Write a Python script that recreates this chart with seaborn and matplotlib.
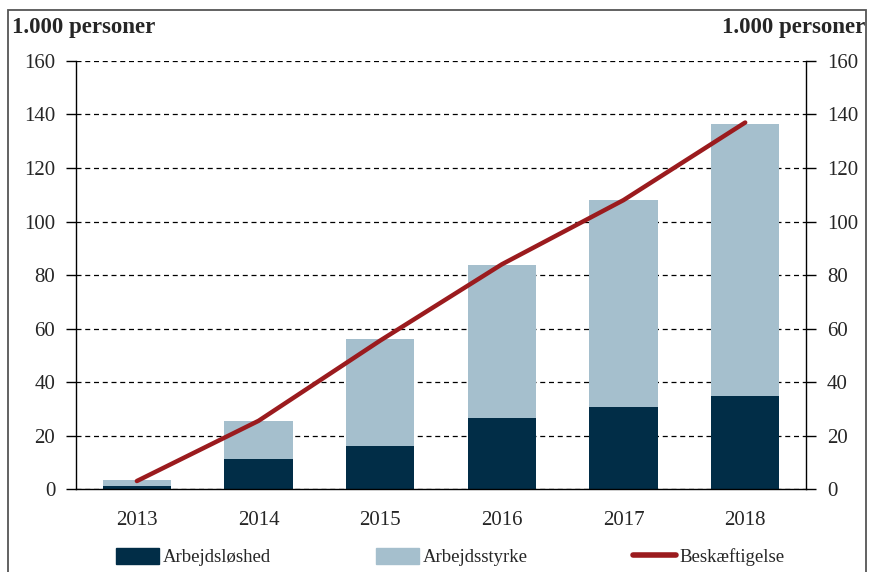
import numpy as np
import pandas as pd
import matplotlib
matplotlib.use("Agg")
import matplotlib.pyplot as plt
import seaborn as sns
from matplotlib.patches import Rectangle
from matplotlib.lines import Line2D
from matplotlib.patches import Patch

sns.set_theme(style="white")
plt.rcParams['font.family'] = ['Liberation Serif', 'DejaVu Serif']

years = ["2013", "2014", "2015", "2016", "2017", "2018"]
arbejdsloshed = [1.0, 11.2, 16.0, 26.5, 30.6, 34.8]
arbejdsstyrke = [3.3, 25.4, 56.2, 83.6, 108.0, 136.6]
beskaeftigelse = [3.0, 25.5, 55.5, 84.0, 108.0, 137.0]

dark = "#012d47"
light = "#a5bfcd"
red = "#9b1b1e"

df = pd.DataFrame({"year": years, "ledige": arbejdsloshed,
                   "styrke": arbejdsstyrke, "besk": beskaeftigelse})

fig = plt.figure(figsize=(8.71, 5.72), dpi=100)
ax = fig.add_axes([0.0873, 0.145, 0.8381, 0.7484])

# lys søjle = arbejdsstyrke, mørk ovenpå = ledighed
sns.barplot(data=df, x="year", y="styrke", color=light, width=0.56,
            saturation=1, edgecolor="none", ax=ax)
sns.barplot(data=df, x="year", y="ledige", color=dark, width=0.56,
            saturation=1, edgecolor="none", ax=ax)
sns.lineplot(x=np.arange(len(years)), y=df["besk"], color=red, lw=3.2,
             ax=ax, solid_capstyle="round")

ax.set_ylim(0, 160)
ax.set_xlim(-0.5, len(years) - 0.5)
ax.set_yticks(range(0, 161, 20))
ax.set_xlabel("")
ax.set_ylabel("")
ax.yaxis.grid(True, linestyle=(0, (4, 3)), color="black", lw=0.9)
ax.set_axisbelow(True)
for s in ["left", "right", "bottom"]:
    ax.spines[s].set_visible(True)
    ax.spines[s].set_color("black")
    ax.spines[s].set_linewidth(1.0)
ax.spines["top"].set_visible(False)
ax.tick_params(axis="y", direction="out", length=7, width=1, color="black",
               labelsize=15, pad=8, left=True)
ax.tick_params(axis="x", length=0, labelsize=15, pad=16)

ax2 = ax.twinx()
ax2.set_ylim(0, 160)
ax2.set_yticks(range(0, 161, 20))
ax2.tick_params(axis="y", direction="out", length=7, width=1, color="black",
                labelsize=15, pad=8, right=True)
for s in ax2.spines.values():
    s.set_visible(False)
ax2.grid(False)

fig.text(0.014, 0.952, "1.000 personer", fontsize=16.5, fontweight="bold", ha="left", va="center")
fig.text(0.993, 0.952, "1.000 personer", fontsize=16.5, fontweight="bold", ha="right", va="center")

fig.patches.append(Rectangle((8 / 871, -0.05), 858 / 871, 1.05 - 10 / 572,
                             transform=fig.transFigure, fill=False,
                             edgecolor="#555555", lw=1.3))

handles = [Patch(color=dark), Patch(color=light), Line2D([], [], color=red, lw=4)]
labels = ["Arbejdsløshed", "Arbejdsstyrke", "Beskæftigelse"]
fig.legend(handles, labels, loc="center", bbox_to_anchor=(0.517, 0.026), ncol=3,
           frameon=False, fontsize=13.5, handlelength=2.3, handleheight=0.9,
           columnspacing=5.6, handletextpad=0.2)

fig.savefig("out.png", dpi=100)
